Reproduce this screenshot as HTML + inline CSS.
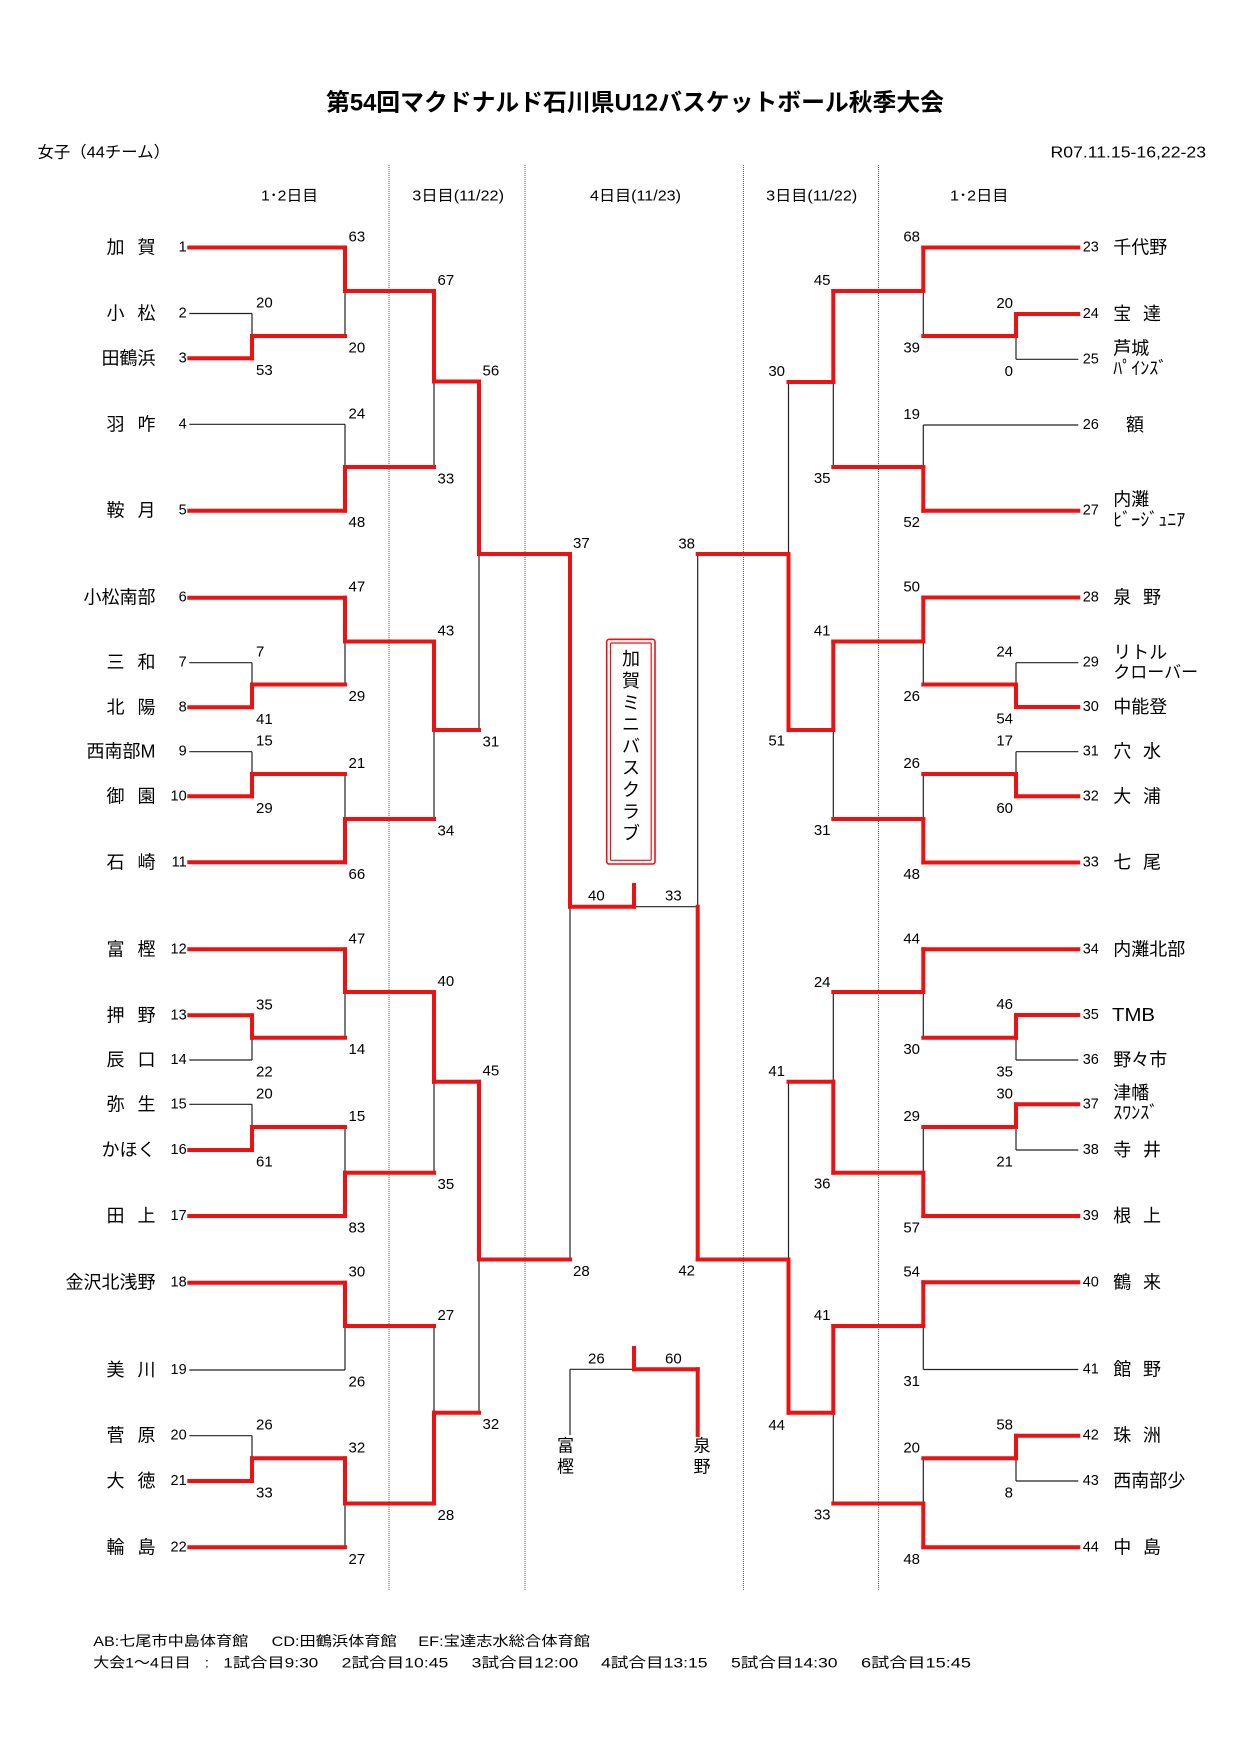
<!DOCTYPE html>
<html><head><meta charset="utf-8">
<style>
html,body{margin:0;padding:0;background:#fff;}
svg{display:block;}
text{font-family:"Liberation Sans","Noto Sans CJK JP",sans-serif;fill:#000;dominant-baseline:central;}
.n{font-size:14.5px;}
.s{font-size:15px;}
.t{font-size:18px;}
.e{text-anchor:end;}
.b line{stroke:#222;stroke-width:1.2;}
.r line{stroke:#ee1111;stroke-width:4;stroke-linecap:square;}
.d line{stroke:#555;stroke-width:1;stroke-dasharray:1 1;}
</style></head>
<body>
<svg width="1240" height="1755" viewBox="0 0 1240 1755" xmlns="http://www.w3.org/2000/svg">
<rect width="1240" height="1755" fill="#fff"/>

<!-- headers -->
<text x="326" y="103" font-size="24" font-weight="bold" textLength="618" lengthAdjust="spacingAndGlyphs">第54回マクドナルド石川県U12バスケットボール秋季大会</text>
<text x="37.5" y="153" font-size="16" textLength="132.5" lengthAdjust="spacingAndGlyphs">女子（44チーム）</text>
<text x="1050.5" y="153" font-size="16" textLength="155.5" lengthAdjust="spacingAndGlyphs">R07.11.15-16,22-23</text>
<text x="261" y="196" font-size="15" textLength="57" lengthAdjust="spacingAndGlyphs">1･2日目</text>
<text x="412.3" y="196" font-size="15" textLength="91.7" lengthAdjust="spacingAndGlyphs">3日目(11/22)</text>
<text x="590" y="196" font-size="15" textLength="91" lengthAdjust="spacingAndGlyphs">4日目(11/23)</text>
<text x="766.2" y="196" font-size="15" textLength="91" lengthAdjust="spacingAndGlyphs">3日目(11/22)</text>
<text x="950" y="196" font-size="15" textLength="58.5" lengthAdjust="spacingAndGlyphs">1･2日目</text>

<!-- dotted column lines -->
<g class="d">
<line x1="389" y1="165" x2="389" y2="1590"/>
<line x1="525" y1="165" x2="525" y2="1590"/>
<line x1="743.4" y1="165" x2="743.4" y2="1590"/>
<line x1="878.6" y1="165" x2="878.6" y2="1590"/>
</g>

<!-- black lines -->
<g class="b">
<line x1="189.3" y1="313.5" x2="252" y2="313.5"/>
<line x1="189.3" y1="424.3" x2="345" y2="424.3"/>
<line x1="189.3" y1="662.7" x2="252" y2="662.7"/>
<line x1="189.3" y1="751.7" x2="252" y2="751.7"/>
<line x1="189.3" y1="1060" x2="252" y2="1060"/>
<line x1="189.3" y1="1104.3" x2="252" y2="1104.3"/>
<line x1="189.3" y1="1370" x2="345" y2="1370"/>
<line x1="189.3" y1="1435.7" x2="252" y2="1435.7"/>
<line x1="252" y1="313.5" x2="252" y2="336"/>
<line x1="252" y1="662.7" x2="252" y2="684.5"/>
<line x1="252" y1="751.7" x2="252" y2="774"/>
<line x1="252" y1="1037.7" x2="252" y2="1060"/>
<line x1="252" y1="1104.3" x2="252" y2="1127"/>
<line x1="252" y1="1435.7" x2="252" y2="1458.3"/>
<line x1="345" y1="291" x2="345" y2="336"/>
<line x1="345" y1="424.3" x2="345" y2="467"/>
<line x1="345" y1="641.5" x2="345" y2="684.5"/>
<line x1="345" y1="774" x2="345" y2="819"/>
<line x1="345" y1="992" x2="345" y2="1037.7"/>
<line x1="345" y1="1127" x2="345" y2="1172.7"/>
<line x1="345" y1="1326" x2="345" y2="1370"/>
<line x1="345" y1="1503.5" x2="345" y2="1547.3"/>
<line x1="434" y1="381.5" x2="434" y2="467"/>
<line x1="434" y1="730" x2="434" y2="819"/>
<line x1="434" y1="1081.7" x2="434" y2="1172.7"/>
<line x1="434" y1="1326" x2="434" y2="1412.7"/>
<line x1="479" y1="554" x2="479" y2="730"/>
<line x1="479" y1="1259.5" x2="479" y2="1412.7"/>
<line x1="570" y1="906.7" x2="570" y2="1259.5"/>
<line x1="634" y1="906.7" x2="697.7" y2="906.7"/>
<line x1="570" y1="1369.3" x2="634" y2="1369.3"/>
<line x1="570" y1="1369.3" x2="570" y2="1435"/>

<line x1="1016" y1="359.3" x2="1078.3" y2="359.3"/>
<line x1="923.3" y1="425" x2="1078.3" y2="425"/>
<line x1="1016" y1="662.7" x2="1078.3" y2="662.7"/>
<line x1="1016" y1="751.7" x2="1078.3" y2="751.7"/>
<line x1="1016" y1="1060" x2="1078.3" y2="1060"/>
<line x1="1016" y1="1150" x2="1078.3" y2="1150"/>
<line x1="923.3" y1="1369.5" x2="1078.3" y2="1369.5"/>
<line x1="1016" y1="1481" x2="1078.3" y2="1481"/>
<line x1="1016" y1="336" x2="1016" y2="359.3"/>
<line x1="1016" y1="662.7" x2="1016" y2="684.5"/>
<line x1="1016" y1="751.7" x2="1016" y2="774"/>
<line x1="1016" y1="1037.7" x2="1016" y2="1060"/>
<line x1="1016" y1="1127" x2="1016" y2="1150"/>
<line x1="1016" y1="1458.3" x2="1016" y2="1481"/>
<line x1="923.3" y1="291" x2="923.3" y2="336"/>
<line x1="923.3" y1="425" x2="923.3" y2="467"/>
<line x1="923.3" y1="641.5" x2="923.3" y2="684.5"/>
<line x1="923.3" y1="774" x2="923.3" y2="819"/>
<line x1="923.3" y1="992" x2="923.3" y2="1037.7"/>
<line x1="923.3" y1="1127" x2="923.3" y2="1172.7"/>
<line x1="923.3" y1="1326" x2="923.3" y2="1369.5"/>
<line x1="923.3" y1="1458.3" x2="923.3" y2="1503.5"/>
<line x1="833.3" y1="382" x2="833.3" y2="467"/>
<line x1="833.3" y1="730" x2="833.3" y2="819"/>
<line x1="833.3" y1="992" x2="833.3" y2="1081.7"/>
<line x1="833.3" y1="1412.7" x2="833.3" y2="1503.5"/>
<line x1="788.5" y1="382" x2="788.5" y2="554"/>
<line x1="788.5" y1="1081.7" x2="788.5" y2="1259.5"/>
<line x1="697.7" y1="554" x2="697.7" y2="906.7"/>
</g>

<!-- red lines -->
<g class="r">
<line x1="189.3" y1="247.5" x2="345" y2="247.5"/>
<line x1="189.3" y1="358.3" x2="252" y2="358.3"/>
<line x1="189.3" y1="510.7" x2="345" y2="510.7"/>
<line x1="189.3" y1="597.7" x2="345" y2="597.7"/>
<line x1="189.3" y1="707.3" x2="252" y2="707.3"/>
<line x1="189.3" y1="796.3" x2="252" y2="796.3"/>
<line x1="189.3" y1="862.3" x2="345" y2="862.3"/>
<line x1="189.3" y1="949.3" x2="345" y2="949.3"/>
<line x1="189.3" y1="1015.3" x2="252" y2="1015.3"/>
<line x1="189.3" y1="1150" x2="252" y2="1150"/>
<line x1="189.3" y1="1216" x2="345" y2="1216"/>
<line x1="189.3" y1="1282.7" x2="345" y2="1282.7"/>
<line x1="189.3" y1="1481" x2="252" y2="1481"/>
<line x1="189.3" y1="1547.3" x2="345" y2="1547.3"/>
<line x1="252" y1="336" x2="252" y2="358.3"/>
<line x1="252" y1="684.5" x2="252" y2="707.3"/>
<line x1="252" y1="774" x2="252" y2="796.3"/>
<line x1="252" y1="1015.3" x2="252" y2="1037.7"/>
<line x1="252" y1="1127" x2="252" y2="1150"/>
<line x1="252" y1="1458.3" x2="252" y2="1481"/>
<line x1="252" y1="336" x2="345" y2="336"/>
<line x1="252" y1="684.5" x2="345" y2="684.5"/>
<line x1="252" y1="774" x2="345" y2="774"/>
<line x1="252" y1="1037.7" x2="345" y2="1037.7"/>
<line x1="252" y1="1127" x2="345" y2="1127"/>
<line x1="252" y1="1458.3" x2="345" y2="1458.3"/>
<line x1="345" y1="247.5" x2="345" y2="291"/>
<line x1="345" y1="467" x2="345" y2="510.7"/>
<line x1="345" y1="597.7" x2="345" y2="641.5"/>
<line x1="345" y1="819" x2="345" y2="862.3"/>
<line x1="345" y1="949.3" x2="345" y2="992"/>
<line x1="345" y1="1172.7" x2="345" y2="1216"/>
<line x1="345" y1="1282.7" x2="345" y2="1326"/>
<line x1="345" y1="1458.3" x2="345" y2="1503.5"/>
<line x1="345" y1="291" x2="434" y2="291"/>
<line x1="345" y1="467" x2="434" y2="467"/>
<line x1="345" y1="641.5" x2="434" y2="641.5"/>
<line x1="345" y1="819" x2="434" y2="819"/>
<line x1="345" y1="992" x2="434" y2="992"/>
<line x1="345" y1="1172.7" x2="434" y2="1172.7"/>
<line x1="345" y1="1326" x2="434" y2="1326"/>
<line x1="345" y1="1503.5" x2="434" y2="1503.5"/>
<line x1="434" y1="291" x2="434" y2="381.5"/>
<line x1="434" y1="641.5" x2="434" y2="730"/>
<line x1="434" y1="992" x2="434" y2="1081.7"/>
<line x1="434" y1="1412.7" x2="434" y2="1503.5"/>
<line x1="434" y1="381.5" x2="479" y2="381.5"/>
<line x1="434" y1="730" x2="479" y2="730"/>
<line x1="434" y1="1081.7" x2="479" y2="1081.7"/>
<line x1="434" y1="1412.7" x2="479" y2="1412.7"/>
<line x1="479" y1="381.5" x2="479" y2="554"/>
<line x1="479" y1="1081.7" x2="479" y2="1259.5"/>
<line x1="479" y1="554" x2="570" y2="554"/>
<line x1="479" y1="1259.5" x2="570" y2="1259.5"/>
<line x1="570" y1="554" x2="570" y2="906.7"/>
<line x1="570" y1="906.7" x2="634" y2="906.7"/>
<line x1="634" y1="885" x2="634" y2="906.7"/>
<line x1="634" y1="1369.3" x2="697.7" y2="1369.3"/>
<line x1="697.7" y1="1369.3" x2="697.7" y2="1435"/>
<line x1="634" y1="1348" x2="634" y2="1369.3"/>

<line x1="923.3" y1="247.5" x2="1078.3" y2="247.5"/>
<line x1="1016" y1="314" x2="1078.3" y2="314"/>
<line x1="923.3" y1="510.7" x2="1078.3" y2="510.7"/>
<line x1="923.3" y1="597.5" x2="1078.3" y2="597.5"/>
<line x1="1016" y1="707" x2="1078.3" y2="707"/>
<line x1="1016" y1="796.3" x2="1078.3" y2="796.3"/>
<line x1="923.3" y1="862.5" x2="1078.3" y2="862.5"/>
<line x1="923.3" y1="949.3" x2="1078.3" y2="949.3"/>
<line x1="1016" y1="1015" x2="1078.3" y2="1015"/>
<line x1="1016" y1="1104.3" x2="1078.3" y2="1104.3"/>
<line x1="923.3" y1="1216" x2="1078.3" y2="1216"/>
<line x1="923.3" y1="1282.3" x2="1078.3" y2="1282.3"/>
<line x1="1016" y1="1435.7" x2="1078.3" y2="1435.7"/>
<line x1="923.3" y1="1547.3" x2="1078.3" y2="1547.3"/>
<line x1="1016" y1="314" x2="1016" y2="336"/>
<line x1="1016" y1="684.5" x2="1016" y2="707"/>
<line x1="1016" y1="774" x2="1016" y2="796.3"/>
<line x1="1016" y1="1015" x2="1016" y2="1037.7"/>
<line x1="1016" y1="1104.3" x2="1016" y2="1127"/>
<line x1="1016" y1="1435.7" x2="1016" y2="1458.3"/>
<line x1="923.3" y1="336" x2="1016" y2="336"/>
<line x1="923.3" y1="684.5" x2="1016" y2="684.5"/>
<line x1="923.3" y1="774" x2="1016" y2="774"/>
<line x1="923.3" y1="1037.7" x2="1016" y2="1037.7"/>
<line x1="923.3" y1="1127" x2="1016" y2="1127"/>
<line x1="923.3" y1="1458.3" x2="1016" y2="1458.3"/>
<line x1="923.3" y1="247.5" x2="923.3" y2="291"/>
<line x1="923.3" y1="467" x2="923.3" y2="510.7"/>
<line x1="923.3" y1="597.5" x2="923.3" y2="641.5"/>
<line x1="923.3" y1="819" x2="923.3" y2="862.5"/>
<line x1="923.3" y1="949.3" x2="923.3" y2="992"/>
<line x1="923.3" y1="1172.7" x2="923.3" y2="1216"/>
<line x1="923.3" y1="1282.3" x2="923.3" y2="1326"/>
<line x1="923.3" y1="1503.5" x2="923.3" y2="1547.3"/>
<line x1="833.3" y1="291" x2="923.3" y2="291"/>
<line x1="833.3" y1="467" x2="923.3" y2="467"/>
<line x1="833.3" y1="641.5" x2="923.3" y2="641.5"/>
<line x1="833.3" y1="819" x2="923.3" y2="819"/>
<line x1="833.3" y1="992" x2="923.3" y2="992"/>
<line x1="833.3" y1="1172.7" x2="923.3" y2="1172.7"/>
<line x1="833.3" y1="1326" x2="923.3" y2="1326"/>
<line x1="833.3" y1="1503.5" x2="923.3" y2="1503.5"/>
<line x1="833.3" y1="291" x2="833.3" y2="382"/>
<line x1="833.3" y1="641.5" x2="833.3" y2="730"/>
<line x1="833.3" y1="1081.7" x2="833.3" y2="1172.7"/>
<line x1="833.3" y1="1326" x2="833.3" y2="1412.7"/>
<line x1="788.5" y1="382" x2="833.3" y2="382"/>
<line x1="788.5" y1="730" x2="833.3" y2="730"/>
<line x1="788.5" y1="1081.7" x2="833.3" y2="1081.7"/>
<line x1="788.5" y1="1412.7" x2="833.3" y2="1412.7"/>
<line x1="788.5" y1="554" x2="788.5" y2="730"/>
<line x1="788.5" y1="1259.5" x2="788.5" y2="1412.7"/>
<line x1="697.7" y1="554" x2="788.5" y2="554"/>
<line x1="697.7" y1="1259.5" x2="788.5" y2="1259.5"/>
<line x1="697.7" y1="906.7" x2="697.7" y2="1259.5"/>
</g>

<!-- champion box -->
<rect x="606.7" y="639.3" width="48.3" height="224.7" rx="2.5" fill="none" stroke="#ee1111" stroke-width="1.6"/>
<rect x="610.5" y="643" width="40.7" height="217.3" rx="1" fill="none" stroke="#ee1111" stroke-width="1.2"/>
<g font-size="18" text-anchor="middle">
<text x="631" y="659.2">加</text>
<text x="631" y="681">賀</text>
<text x="631" y="702.8">ミ</text>
<text x="631" y="724.6">ニ</text>
<text x="631" y="746.4">バ</text>
<text x="631" y="768.2">ス</text>
<text x="631" y="790">ク</text>
<text x="631" y="811.8">ラ</text>
<text x="631" y="833.6">ブ</text>
</g>

<!-- third place names -->
<g font-size="17" text-anchor="middle">
<text x="565.5" y="1446">富</text>
<text x="565.5" y="1467">樫</text>
<text x="702" y="1446">泉</text>
<text x="702" y="1467">野</text>
</g>

<!-- team numbers left -->
<g class="n e">
<text x="186.7" y="247.5" text-anchor="end">1</text>
<text x="186.7" y="313.5" text-anchor="end">2</text>
<text x="186.7" y="358.3" text-anchor="end">3</text>
<text x="186.7" y="424.3" text-anchor="end">4</text>
<text x="186.7" y="510.7" text-anchor="end">5</text>
<text x="186.7" y="597.7" text-anchor="end">6</text>
<text x="186.7" y="662.7" text-anchor="end">7</text>
<text x="186.7" y="707.3" text-anchor="end">8</text>
<text x="186.7" y="751.7" text-anchor="end">9</text>
<text x="186.7" y="796.3" text-anchor="end">10</text>
<text x="186.7" y="862.3" text-anchor="end">11</text>
<text x="186.7" y="949.3" text-anchor="end">12</text>
<text x="186.7" y="1015.3" text-anchor="end">13</text>
<text x="186.7" y="1060" text-anchor="end">14</text>
<text x="186.7" y="1104.3" text-anchor="end">15</text>
<text x="186.7" y="1150" text-anchor="end">16</text>
<text x="186.7" y="1216" text-anchor="end">17</text>
<text x="186.7" y="1282.7" text-anchor="end">18</text>
<text x="186.7" y="1370" text-anchor="end">19</text>
<text x="186.7" y="1435.7" text-anchor="end">20</text>
<text x="186.7" y="1481" text-anchor="end">21</text>
<text x="186.7" y="1547.3" text-anchor="end">22</text>
</g>
<!-- team numbers right -->
<g class="n">
<text x="1082.7" y="247.5">23</text>
<text x="1082.7" y="314">24</text>
<text x="1082.7" y="359.3">25</text>
<text x="1082.7" y="425">26</text>
<text x="1082.7" y="510.7">27</text>
<text x="1082.7" y="597.5">28</text>
<text x="1082.7" y="662.7">29</text>
<text x="1082.7" y="707">30</text>
<text x="1082.7" y="751.7">31</text>
<text x="1082.7" y="796.3">32</text>
<text x="1082.7" y="862.5">33</text>
<text x="1082.7" y="949.3">34</text>
<text x="1082.7" y="1015">35</text>
<text x="1082.7" y="1060">36</text>
<text x="1082.7" y="1104.3">37</text>
<text x="1082.7" y="1150">38</text>
<text x="1082.7" y="1216">39</text>
<text x="1082.7" y="1282.3">40</text>
<text x="1082.7" y="1369.5">41</text>
<text x="1082.7" y="1435.7">42</text>
<text x="1082.7" y="1481">43</text>
<text x="1082.7" y="1547.3">44</text>
</g>

<!-- team names left -->
<g class="t">
<text x="106.5" y="247.5">加</text><text x="155.5" y="247.5" text-anchor="end">賀</text>
<text x="106.5" y="313.5">小</text><text x="155.5" y="313.5" text-anchor="end">松</text>
<text x="155.5" y="358.3" text-anchor="end">田鶴浜</text>
<text x="106.5" y="424.3">羽</text><text x="155.5" y="424.3" text-anchor="end">咋</text>
<text x="106.5" y="510.7">鞍</text><text x="155.5" y="510.7" text-anchor="end">月</text>
<text x="155.5" y="597.7" text-anchor="end">小松南部</text>
<text x="106.5" y="662.7">三</text><text x="155.5" y="662.7" text-anchor="end">和</text>
<text x="106.5" y="707.3">北</text><text x="155.5" y="707.3" text-anchor="end">陽</text>
<text x="155.5" y="751.7" text-anchor="end">西南部M</text>
<text x="106.5" y="796.3">御</text><text x="155.5" y="796.3" text-anchor="end">園</text>
<text x="106.5" y="862.3">石</text><text x="155.5" y="862.3" text-anchor="end">崎</text>
<text x="106.5" y="949.3">富</text><text x="155.5" y="949.3" text-anchor="end">樫</text>
<text x="106.5" y="1015.3">押</text><text x="155.5" y="1015.3" text-anchor="end">野</text>
<text x="106.5" y="1060">辰</text><text x="155.5" y="1060" text-anchor="end">口</text>
<text x="106.5" y="1104.3">弥</text><text x="155.5" y="1104.3" text-anchor="end">生</text>
<text x="155.5" y="1150" text-anchor="end">かほく</text>
<text x="106.5" y="1216">田</text><text x="155.5" y="1216" text-anchor="end">上</text>
<text x="155.5" y="1282.7" text-anchor="end">金沢北浅野</text>
<text x="106.5" y="1370">美</text><text x="155.5" y="1370" text-anchor="end">川</text>
<text x="106.5" y="1435.7">菅</text><text x="155.5" y="1435.7" text-anchor="end">原</text>
<text x="106.5" y="1481">大</text><text x="155.5" y="1481" text-anchor="end">徳</text>
<text x="106.5" y="1547.3">輪</text><text x="155.5" y="1547.3" text-anchor="end">島</text>
</g>

<!-- team names right -->
<g class="t">
<text x="1113.3" y="247.5">千代野</text>
<text x="1113.3" y="314">宝</text><text x="1161" y="314" text-anchor="end">達</text>
<text x="1113.3" y="348.3">芦城</text>
<text x="1113.3" y="368.3">ﾊﾟｲﾝｽﾞ</text>
<text x="1126" y="425">額</text>
<text x="1113.3" y="499.3">内灘</text>
<text x="1113.3" y="520">ﾋﾞｰｼﾞｭﾆｱ</text>
<text x="1113.3" y="597.5">泉</text><text x="1161" y="597.5" text-anchor="end">野</text>
<text x="1113.3" y="652.7">リトル</text>
<text x="1113.3" y="672.7" font-size="17">クローバー</text>
<text x="1113.3" y="707">中能登</text>
<text x="1113.3" y="751.7">穴</text><text x="1161" y="751.7" text-anchor="end">水</text>
<text x="1113.3" y="796.3">大</text><text x="1161" y="796.3" text-anchor="end">浦</text>
<text x="1113.3" y="862.5">七</text><text x="1161" y="862.5" text-anchor="end">尾</text>
<text x="1113.3" y="949.3">内灘北部</text>
<text x="1112" y="1015" textLength="43" lengthAdjust="spacingAndGlyphs">TMB</text>
<text x="1113.3" y="1060">野々市</text>
<text x="1113.3" y="1093">津幡</text>
<text x="1113.3" y="1113">ｽﾜﾝｽﾞ</text>
<text x="1113.3" y="1150">寺</text><text x="1161" y="1150" text-anchor="end">井</text>
<text x="1113.3" y="1216">根</text><text x="1161" y="1216" text-anchor="end">上</text>
<text x="1113.3" y="1282.3">鶴</text><text x="1161" y="1282.3" text-anchor="end">来</text>
<text x="1113.3" y="1369.5">館</text><text x="1161" y="1369.5" text-anchor="end">野</text>
<text x="1113.3" y="1435.7">珠</text><text x="1161" y="1435.7" text-anchor="end">洲</text>
<text x="1113.3" y="1481">西南部少</text>
<text x="1113.3" y="1547.3">中</text><text x="1161" y="1547.3" text-anchor="end">島</text>
</g>

<!-- score labels left -->
<g class="s">
<text x="256" y="303">20</text><text x="256" y="370.3">53</text>
<text x="256" y="652.2">7</text><text x="256" y="719.3">41</text>
<text x="256" y="741.2">15</text><text x="256" y="808.3">29</text>
<text x="256" y="1004.8">35</text><text x="256" y="1072">22</text>
<text x="256" y="1093.8">20</text><text x="256" y="1162">61</text>
<text x="256" y="1425.2">26</text><text x="256" y="1493">33</text>

<text x="348.5" y="237">63</text><text x="348.5" y="348">20</text>
<text x="348.5" y="413.8">24</text><text x="348.5" y="522.7">48</text>
<text x="348.5" y="587.2">47</text><text x="348.5" y="696.5">29</text>
<text x="348.5" y="763.5">21</text><text x="348.5" y="874.3">66</text>
<text x="348.5" y="938.8">47</text><text x="348.5" y="1049.7">14</text>
<text x="348.5" y="1116.5">15</text><text x="348.5" y="1228">83</text>
<text x="348.5" y="1272.2">30</text><text x="348.5" y="1382">26</text>
<text x="348.5" y="1447.8">32</text><text x="348.5" y="1559.3">27</text>

<text x="437.5" y="280.5">67</text><text x="437.5" y="479">33</text>
<text x="437.5" y="631">43</text><text x="437.5" y="831">34</text>
<text x="437.5" y="981.5">40</text><text x="437.5" y="1184.7">35</text>
<text x="437.5" y="1315.5">27</text><text x="437.5" y="1515.5">28</text>

<text x="482.5" y="371">56</text><text x="482.5" y="742">31</text>
<text x="482.5" y="1071.2">45</text><text x="482.5" y="1424.7">32</text>

<text x="573" y="543.5">37</text><text x="573" y="1271.5">28</text>

<text x="588" y="896">40</text><text x="665" y="896">33</text>
<text x="588" y="1359">26</text><text x="665" y="1359">60</text>
</g>

<!-- score labels right -->
<g class="s" text-anchor="end">
<text x="1013" y="303.5">20</text><text x="1013" y="371.3">0</text>
<text x="1013" y="652.2">24</text><text x="1013" y="719">54</text>
<text x="1013" y="741.2">17</text><text x="1013" y="808.3">60</text>
<text x="1013" y="1004.5">46</text><text x="1013" y="1072">35</text>
<text x="1013" y="1093.8">30</text><text x="1013" y="1162">21</text>
<text x="1013" y="1425.2">58</text><text x="1013" y="1493">8</text>

<text x="920" y="237">68</text><text x="920" y="348">39</text>
<text x="920" y="414.5">19</text><text x="920" y="522.7">52</text>
<text x="920" y="587">50</text><text x="920" y="696.5">26</text>
<text x="920" y="763.5">26</text><text x="920" y="874.5">48</text>
<text x="920" y="938.8">44</text><text x="920" y="1049.7">30</text>
<text x="920" y="1116.5">29</text><text x="920" y="1228">57</text>
<text x="920" y="1271.8">54</text><text x="920" y="1381.5">31</text>
<text x="920" y="1447.8">20</text><text x="920" y="1559.3">48</text>

<text x="830.5" y="280.3">45</text><text x="830.5" y="478.3">35</text>
<text x="830.5" y="631">41</text><text x="830.5" y="830.3">31</text>
<text x="830.5" y="982.7">24</text><text x="830.5" y="1184">36</text>
<text x="830.5" y="1315.5">41</text><text x="830.5" y="1515">33</text>

<text x="785" y="371.7">30</text><text x="785" y="741">51</text>
<text x="785" y="1071.7">41</text><text x="785" y="1425.3">44</text>

<text x="695" y="544">38</text><text x="695" y="1271">42</text>
</g>

<!-- footer -->
<g font-size="14">
<text x="93.3" y="1641" textLength="155" lengthAdjust="spacingAndGlyphs">AB:七尾市中島体育館</text>
<text x="271.7" y="1641" textLength="125" lengthAdjust="spacingAndGlyphs">CD:田鶴浜体育館</text>
<text x="418.3" y="1641" textLength="171.7" lengthAdjust="spacingAndGlyphs">EF:宝達志水総合体育館</text>
<text x="93.3" y="1662.5" textLength="97.4" lengthAdjust="spacingAndGlyphs">大会1～4日目</text>
<text x="205" y="1662.5">:</text>
<text x="223.3" y="1662.5" textLength="95" lengthAdjust="spacingAndGlyphs">1試合目9:30</text>
<text x="341.7" y="1662.5" textLength="106.6" lengthAdjust="spacingAndGlyphs">2試合目10:45</text>
<text x="471.7" y="1662.5" textLength="106.6" lengthAdjust="spacingAndGlyphs">3試合目12:00</text>
<text x="601" y="1662.5" textLength="106.6" lengthAdjust="spacingAndGlyphs">4試合目13:15</text>
<text x="731" y="1662.5" textLength="106.6" lengthAdjust="spacingAndGlyphs">5試合目14:30</text>
<text x="861" y="1662.5" textLength="110" lengthAdjust="spacingAndGlyphs">6試合目15:45</text>
</g>
</svg>
</body></html>
